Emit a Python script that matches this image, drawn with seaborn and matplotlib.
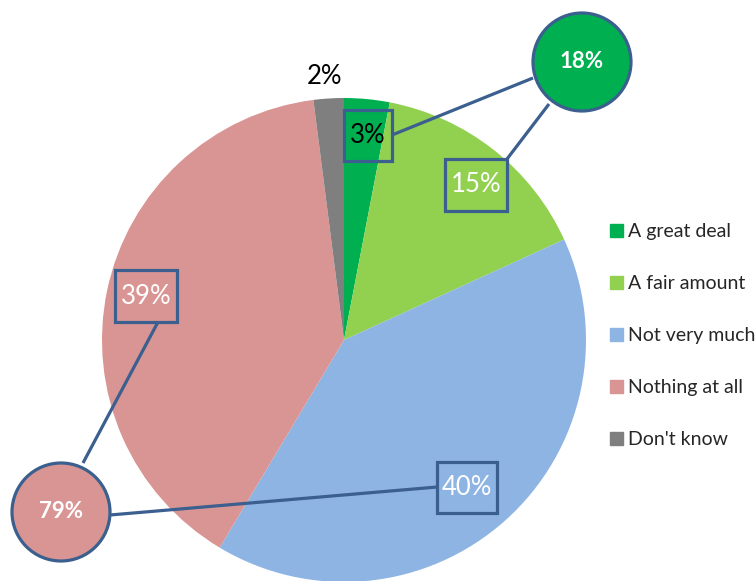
import matplotlib
matplotlib.use("Agg")
import matplotlib.pyplot as plt
import matplotlib.patches as mpatches
import seaborn as sns

categories = ["A great deal", "A fair amount", "Not very much", "Nothing at all", "Don't know"]
values = [3, 15, 40, 39, 2]
labels = ["3%", "15%", "40%", "39%", "2%"]
colors = ["#00B050", "#92D050", "#8EB4E3", "#D99594", "#7F7F7F"]
combined = ["18%", "79%"]

sns.set_style("white")
plt.rcParams["font.family"] = ["Lato", "DejaVu Sans"]

W, H = 756, 581
CX, CY, R = 344, 340, 242
EDGE = "#3B5F8E"


def px(x, y):
    # pixel position -> data coords (pie centred at 0, radius 1)
    return (x - CX) / R, (CY - y) / R


fig = plt.figure(figsize=(W / 100, H / 100), dpi=100)
ax = fig.add_axes([0, 0, 1, 1])
ax.pie(values, colors=colors, startangle=90, counterclock=False, radius=1,
       wedgeprops=dict(linewidth=0))
ax.set_xlim(px(0, 0)[0], px(W, 0)[0])
ax.set_ylim(px(0, H)[1], px(0, 0)[1])
ax.set_aspect("auto")
ax.axis("off")

# connector lines
for (x0, y0), (x1, y1) in [((392, 135), (533, 78)), ((507, 159), (549, 104)),
                           ((158, 322), (83, 463)), ((437, 487), (110, 515))]:
    a, b = px(x0, y0), px(x1, y1)
    ax.plot([a[0], b[0]], [a[1], b[1]], color=EDGE, lw=2.3, solid_capstyle="butt", zorder=3)

# boxed slice labels
boxes = {0: (344, 110, 392, 161, "black"), 1: (445, 159, 507, 211, "white"),
         3: (115, 270, 177, 322, "white"), 2: (437, 462, 497, 513, "white")}
for i, (x0, y0, x1, y1, tc) in boxes.items():
    a = px(x0, y1)
    rect = mpatches.Rectangle(a, (x1 - x0) / R, (y1 - y0) / R, fill=False,
                              edgecolor=EDGE, lw=2.3, zorder=4)
    ax.add_patch(rect)
    c = px((x0 + x1) / 2, (y0 + y1) / 2)
    ax.text(c[0], c[1], labels[i], color=tc, fontsize=18.5, ha="center", va="center", zorder=5)

t = px(325, 76)
ax.text(t[0], t[1], labels[4], color="black", fontsize=18.5, ha="center", va="center")

# combined circles
for (x, y), txt, col in [((582, 62), combined[0], colors[0]), ((61, 512), combined[1], colors[3])]:
    c = px(x, y)
    ax.add_patch(mpatches.Circle(c, 49 / R, facecolor=col, edgecolor=EDGE, lw=2.3, zorder=6))
    ax.text(c[0], c[1], txt, color="white", fontsize=16, fontweight="bold",
            ha="center", va="center", zorder=7)

handles = [mpatches.Patch(color=c) for c in colors]
fig.legend(handles, categories, loc="upper left", bbox_to_anchor=(610 / W, 1 - 223 / H),
           frameon=False, fontsize=14, handlelength=0.65, handleheight=0.65,
           handletextpad=0.25, labelspacing=1.8, borderaxespad=0, borderpad=0)

fig.savefig("out.png", dpi=100)
